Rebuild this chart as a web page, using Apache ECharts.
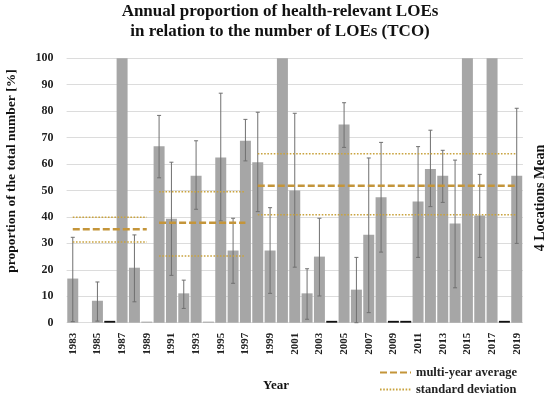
<!DOCTYPE html>
<html>
<head>
<meta charset="utf-8">
<script src="https://cdn.jsdelivr.net/npm/echarts@6/dist/echarts.min.js"></script>
<style>html,body{margin:0;padding:0;background:#fff}#c{width:550px;height:396px}</style>
</head>
<body>
<div id="c"></div>
<script>
// ---- data ----
var years = ['1983','1984','1985','1986','1987','1988','1989','1990','1991','1992','1993','1994','1995','1996','1997','1998','1999','2000','2001','2002','2003','2004','2005','2006','2007','2008','2009','2010','2011','2012','2013','2014','2015','2016','2017','2018','2019'];
var proportion = [16.7,null,8.3,null,100,20.8,0.4,66.7,39.3,11.1,55.6,0.4,62.5,27.3,68.8,60.7,27.3,100,50.0,11.1,25.0,null,75.0,12.5,33.3,47.4,null,null,45.8,58.1,55.6,37.5,100,40.5,100,null,55.6];
var errLow  = [0.4,null,0.6,null,null,7.9,null,54.8,17.9,5.4,42.9,null,38.5,14.9,61.2,42.0,11.1,null,21.0,1.3,10.1,null,66.3,0.0,3.8,26.7,null,null,24.7,43.9,45.5,13.2,null,24.7,null,null,30.0];
var errHigh = [32.3,null,15.4,null,null,33.2,null,78.4,60.7,16.1,68.8,null,86.8,39.5,76.9,79.6,43.5,null,79.2,20.4,39.5,null,83.2,24.7,62.3,68.2,null,null,66.6,72.8,65.2,61.5,null,56.1,null,null,81.1];
var zeroYears = ['1986','2004','2009','2010','2018'];
var segStart = ['1983','1990','1998'];
var segEnd   = ['1989','1997','2019'];
var segMean  = [35.3, 37.8, 51.8];
var segSdLow = [30.5, 25.2, 40.8];
var segSdHigh= [39.9, 49.5, 63.9];

// ---- build ----
var FONT = 'Liberation Serif';
var zeroData = years.map(function(y){ return zeroYears.indexOf(y) >= 0 ? 0.7 : null; });
var errData = [];
years.forEach(function(y,i){ if (errLow[i] != null && errHigh[i] != null) errData.push([i, errLow[i], errHigh[i]]); });

function segLine(idx, val){
  var s = years.indexOf(segStart[idx]), e = years.indexOf(segEnd[idx]);
  return years.map(function(y,i){ return (i >= s && i <= e) ? val : null; });
}
var MEAN_C = '#c4953a', SD_C = '#c9a33f';
var lineSeries = [];
for (var k = 0; k < segMean.length; k++) {
  lineSeries.push({name:'multi-year average', type:'line', data: segLine(k, segMean[k]), symbol:'none', z:5,
    lineStyle:{color:MEAN_C, width:2.5, type:[7,3]}, itemStyle:{color:MEAN_C}, silent:true, animation:false});
  lineSeries.push({name:'standard deviation', type:'line', data: segLine(k, segSdHigh[k]), symbol:'none', z:5,
    lineStyle:{color:SD_C, width:1.6, type:[1.6,1.6]}, itemStyle:{color:SD_C}, silent:true, animation:false});
  lineSeries.push({name:'standard deviation', type:'line', data: segLine(k, segSdLow[k]), symbol:'none', z:5,
    lineStyle:{color:SD_C, width:1.6, type:[1.6,1.6]}, itemStyle:{color:SD_C}, silent:true, animation:false});
}

var chart = echarts.init(document.getElementById('c'), null, {renderer:'canvas'});
chart.setOption({
  animation:false,
  title:{
    text:'Annual proportion of health-relevant LOEs\nin relation to the number of LOEs (TCO)',
    left:280, top:2, textAlign:'center', padding:0,
    textStyle:{fontFamily:FONT, fontWeight:'bold', fontSize:17, lineHeight:19.5, color:'#111'}
  },
  grid:{left:66.6, right:27.1, top:58.3, bottom:73.3, containLabel:false},
  legend:{
    data:['multi-year average','standard deviation'],
    orient:'vertical', left:379, top:366, padding:0,
    itemWidth:31, itemHeight:12, itemGap:4,
    itemStyle:{opacity:0},
    textStyle:{fontFamily:FONT, fontWeight:'bold', fontSize:12.5, color:'#222'}
  },
  xAxis:{
    type:'category', data:years,
    axisLine:{show:false}, axisTick:{show:false},
    axisLabel:{interval:1, rotate:90, margin:10, fontFamily:FONT, fontWeight:'bold', fontSize:11, color:'#222'}
  },
  yAxis:{
    type:'value', min:0, max:100, interval:10,
    axisLine:{show:false}, axisTick:{show:false},
    axisLabel:{fontFamily:FONT, fontWeight:'bold', fontSize:12, color:'#222', margin:13},
    splitLine:{lineStyle:{color:'#dcdcdc', width:1}}
  },
  graphic:[
    {type:'text', x:12, y:171, rotation:Math.PI/2,
     style:{text:'proportion of the total number [%]', font:'bold 13.5px "Liberation Serif"', fill:'#111', textAlign:'center', textVerticalAlign:'middle'}},
    {type:'text', x:540.5, y:198, rotation:Math.PI/2,
     style:{text:'4 Locations Mean', font:'bold 14px "Liberation Serif"', fill:'#111', textAlign:'center', textVerticalAlign:'middle'}},
    {type:'text', x:276, y:386,
     style:{text:'Year', font:'bold 13px "Liberation Serif"', fill:'#111', textAlign:'center', textVerticalAlign:'middle'}}
  ],
  series:[
    {name:'proportion', type:'bar', data:proportion, barCategoryGap:'11%', itemStyle:{color:'#a6a6a6'}, z:2},
    {name:'none', type:'bar', data:zeroData, barGap:'-100%', barCategoryGap:'11%', itemStyle:{color:'#111'}, z:3},
    {name:'error', type:'custom', data:errData, z:4, encode:{x:0, y:[1,2]},
     renderItem:function(params, api){
       var x = api.value(0);
       var lo = api.coord([x, api.value(1)]);
       var hi = api.coord([x, api.value(2)]);
       var w = 2;
       var st = {stroke:'#707070', lineWidth:1};
       return {type:'group', children:[
         {type:'line', shape:{x1:lo[0], y1:lo[1], x2:hi[0], y2:hi[1]}, style:st},
         {type:'line', shape:{x1:lo[0]-w, y1:lo[1], x2:lo[0]+w, y2:lo[1]}, style:st},
         {type:'line', shape:{x1:hi[0]-w, y1:hi[1], x2:hi[0]+w, y2:hi[1]}, style:st}
       ]};
     }}
  ].concat(lineSeries)
});
</script>
</body>
</html>
